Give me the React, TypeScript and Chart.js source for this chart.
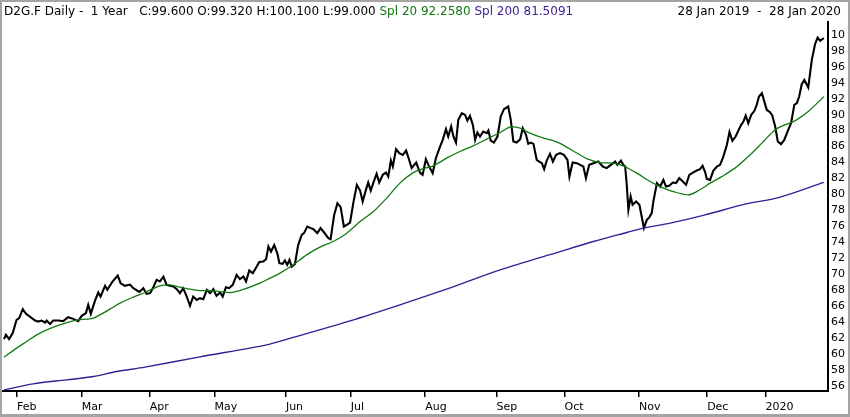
import React, { useEffect, useRef } from "react";
import { Chart, registerables } from "chart.js";

Chart.register(...registerables);

// ---- Data (x = trading-day index from 28 Jan 2019) ----
const priceDay = [
  0.0, 0.6, 1.6, 2.7, 3.9, 4.7, 5.8, 6.8, 8.0, 9.6, 10.6, 11.6, 12.7, 13.2, 14.2, 15.2, 16.8, 18.3, 19.8, 21.4,
  22.9, 24.0, 25.3, 26.0, 26.8, 28.1, 29.1, 29.8, 31.2, 31.9, 33.5, 35.1, 36.0, 37.3, 38.9, 39.9, 41.8, 43.0,
  44.0, 45.1, 46.1, 47.1, 48.1, 49.2, 50.2, 51.2, 52.3, 53.3, 54.3, 55.3, 56.4, 57.4, 58.4, 59.5, 60.5, 61.5,
  62.6, 63.6, 64.6, 65.6, 66.7, 67.5, 68.5, 69.5, 70.6, 71.8, 72.8, 73.9, 74.7, 75.7, 76.8, 78.0, 78.8, 80.0,
  80.9, 81.6, 82.4, 83.4, 84.4, 85.0, 86.0, 86.7, 87.4, 88.1, 88.8, 89.8, 90.8, 91.9, 92.6, 93.6, 94.7, 95.5,
  96.7, 97.7, 98.8, 100.1, 100.8, 101.9, 102.9, 103.9, 104.9, 105.8, 106.8, 107.8, 108.9, 109.9, 110.7, 111.7,
  112.4, 113.2, 114.0, 115.0, 115.8, 116.9, 117.9, 118.6, 119.4, 120.0, 121.0, 122.0, 123.1, 124.1, 125.1,
  125.8, 127.2, 128.4, 129.2, 130.2, 131.3, 132.3, 133.3, 134.4, 135.4, 136.4, 137.1, 138.0, 138.7, 139.5,
  140.2, 141.3, 142.3, 143.0, 143.8, 144.7, 145.4, 146.1, 146.9, 147.9, 149.0, 149.5, 150.2, 151.2, 152.3,
  153.3, 154.3, 155.6, 156.4, 157.2, 158.2, 159.3, 160.1, 161.1, 161.8, 162.6, 163.4, 164.4, 165.2, 166.0,
  166.7, 167.5, 168.5, 169.4, 170.4, 171.6, 172.8, 173.9, 174.5, 175.5, 176.8, 177.8, 178.8, 179.6, 180.6,
  181.9, 183.4, 184.8, 186.0, 187.3, 188.6, 189.3, 190.4, 191.1, 191.7, 192.2, 192.7, 193.4, 194.0, 195.1,
  196.1, 196.8, 197.5, 198.4, 199.2, 199.9, 200.4, 201.5, 202.5, 203.5, 204.3, 205.3, 206.4, 207.4, 208.4,
  209.5, 210.5, 211.5, 212.6, 213.8, 214.8, 215.6, 216.4, 216.9, 217.9, 218.9, 220.0, 221.0, 222.0, 223.1,
  223.9, 224.8, 225.8, 226.6, 227.5, 228.2, 228.9, 229.7, 230.6, 231.6, 232.3, 233.0, 233.9, 234.7, 235.4,
  236.4, 237.1, 238.0, 238.8, 239.8, 240.8, 241.9, 242.9, 243.9, 244.7, 245.4, 246.2, 247.0, 248.2, 249.3,
  250.3, 251.1, 251.9, 253.0,
];
const priceClose = [
  61.87, 62.41, 61.87, 62.62, 64.29, 64.5, 65.63, 65.04, 64.7, 64.2, 64.07, 64.2, 63.95, 64.2, 63.78, 64.2, 64.2, 64.12, 64.62, 64.41,
  64.12, 64.79, 65.13, 66.17, 65.04, 66.7, 67.71, 67.21, 68.55, 68.05, 69.09, 69.84, 68.88, 68.55, 68.71, 68.26, 67.79, 68.26,
  67.54, 67.63, 68.38, 69.3, 69.09, 69.71, 68.67, 68.55, 68.46, 68.13, 67.63, 68.26, 67.21, 66.04, 67.21, 66.79, 67.0, 66.88,
  68.05, 67.63, 68.13, 67.29, 67.71, 67.21, 68.38, 68.26, 68.67, 69.92, 69.39, 69.71, 69.09, 70.46, 70.14, 70.96, 71.55, 71.59,
  71.89, 73.47, 72.84, 73.65, 72.56, 71.39, 71.3, 71.72, 71.18, 71.8, 70.96, 71.3, 73.68, 74.94, 75.15, 75.98, 75.78, 75.65,
  75.15, 75.78, 75.23, 74.52, 74.4, 77.44, 78.91, 78.41, 75.98, 76.19, 76.48, 78.91, 81.2, 80.49, 79.11, 80.58,
  81.49, 80.49, 81.49, 82.58, 81.49, 82.46, 82.74, 82.24, 84.25, 83.5, 85.68, 85.18, 84.96, 85.5, 84.25,
  83.3, 84.0, 82.74, 82.46, 84.42, 83.42, 82.67, 84.55, 85.8, 86.84, 88.18, 87.26, 88.51, 87.26, 86.5,
  89.35, 90.19, 89.97, 89.26, 89.85, 88.72, 86.84, 87.76, 87.26, 87.88, 87.68, 88.01, 86.75, 86.5, 87.26,
  89.76, 90.69, 91.02, 89.35, 86.63, 86.5, 86.93, 88.31, 87.47, 86.34, 86.5, 86.34, 84.34, 84.12, 83.92,
  83.17, 84.25, 85.09, 84.12, 84.96, 85.18, 84.96, 84.34, 82.24, 84.0, 83.92, 83.71, 83.5, 82.04, 83.71,
  83.92, 84.12, 83.5, 83.3, 83.71, 84.12, 83.71, 84.25, 83.71, 83.5, 81.2, 78.07, 79.74, 78.7, 79.11,
  78.7, 77.23, 75.78, 76.82, 77.16, 77.66, 79.11, 81.42, 80.99, 81.83, 80.99, 81.08, 81.49, 81.42, 82.04,
  81.62, 81.2, 82.46, 82.74, 83.0, 83.17, 83.58, 82.77, 81.95, 81.83, 82.96, 83.5, 83.71, 84.75, 86.22,
  87.81, 86.72, 87.26, 87.97, 88.72, 89.14, 89.89, 88.93, 89.97, 90.48, 91.23, 92.27, 92.69, 91.57, 90.6,
  90.31, 89.89, 88.51, 86.63, 86.3, 86.84, 87.97, 88.93, 91.23, 91.44, 92.27, 93.82, 94.36, 93.4, 96.87,
  98.83, 99.66, 99.25, 99.6,
];

const sma20Day = [
  0, 3.9, 7.0, 10.1, 13.2, 16.3, 19.4, 22.9, 25.5, 27.6, 29.6, 32.7, 35.8, 39.9, 43.5, 48.1, 51.2, 54.3, 57.4,
  60.5, 63.6, 66.7, 69.8, 72.8, 75.9, 79.0, 82.1, 85.2, 89.3, 93.4, 97.5, 101.6, 105.8, 109.9, 114.0, 118.1,
  122.2, 126.3, 129.9, 132.5, 136.6, 140.7, 144.8, 149.0, 153.1, 156.2, 159.3, 162.3, 166.5, 169.5, 171.6,
  173.4, 175.7, 179.8, 183.9, 188.0, 191.1, 195.3, 199.4, 202.5, 206.6, 211.2, 213.8, 216.4, 217.4, 221.5, 225.6,
  229.7, 233.9, 238.0, 241.0, 244.1, 248.2, 253.0,
];
const sma20Value = [
  59.61, 60.74, 61.57, 62.41, 63.03, 63.53, 63.95, 64.29, 64.37, 64.5, 64.91, 65.63, 66.38, 67.13, 67.71, 68.55, 68.67, 68.38, 68.13,
  67.96, 67.96, 67.83, 67.71, 67.96, 68.38, 68.88, 69.51, 70.14, 71.18, 72.43, 73.4, 74.1, 75.15, 76.6, 77.86, 79.54,
  81.42, 82.74, 83.3, 83.58, 84.55, 85.38, 86.09, 86.93, 87.76, 88.43, 88.31, 87.68, 87.06, 86.75, 86.4,
  86.0, 85.45, 84.5, 84.0, 83.92, 83.58, 82.67, 81.62, 80.99, 80.36, 79.95, 80.36, 80.99, 81.29, 82.24, 83.3,
  84.75, 86.43, 88.1, 88.72, 89.22, 90.39, 92.258,
];

const sma200Day = [0, 9.0, 19.4, 27.6, 34.8, 43.5, 60.5, 81.1, 86.7, 106.8, 122.2, 137.7, 153.1, 171.6, 181.9, 192.2, 197.3, 205.6, 216.4, 228.7, 239.0, 253.0];
const sma200Value = [55.51, 56.27, 56.77, 57.18, 57.81, 58.36, 59.65, 61.15, 61.78, 64.16, 66.17, 68.3, 70.55, 72.84, 74.1, 75.23, 75.78, 76.4, 77.44, 78.78, 79.61, 81.509];

const monthTickDays = [4, 24, 45, 65, 87, 107, 130, 152, 173, 196, 217, 235];
const monthTickLabels = ["Feb", "Mar", "Apr", "May", "Jun", "Jul", "Aug", "Sep", "Oct", "Nov", "Dec", "2020"];
const priceTicks = [56, 58, 60, 62, 64, 66, 68, 70, 72, 74, 76, 78, 80, 82, 84, 86, 88, 90, 92, 94, 96, 98, 100];

const headerMain = "D2G.F Daily -  1 Year   C:99.600 O:99.320 H:100.100 L:99.000";
const headerSma20 = "Spl 20 92.2580";
const headerSma200 = "Spl 200 81.5091";
const headerRange = "28 Jan 2019  -  28 Jan 2020";

const W = 850;
const H = 417;
const CANVAS_W = 845;
const FONT = "'DejaVu Sans', sans-serif";
const GREEN = "#107a10";
const PURPLE = "#3a1c96";

function toPoints(xs: number[], ys: number[]) {
  return xs.map((x, i) => ({ x, y: ys[i] }));
}

export default function App() {
  const ref = useRef<HTMLCanvasElement | null>(null);

  useEffect(() => {
    if (!ref.current) return;
    const chart = new Chart(ref.current, {
      type: "line",
      data: {
        datasets: [
          {
            label: "Spl 200",
            data: toPoints(sma200Day, sma200Value),
            borderColor: PURPLE,
            borderWidth: 1.4,
            pointRadius: 0,
            tension: 0.3,
          },
          {
            label: "Spl 20",
            data: toPoints(sma20Day, sma20Value),
            borderColor: GREEN,
            borderWidth: 1.3,
            pointRadius: 0,
            tension: 0.3,
          },
          {
            label: "D2G.F",
            data: toPoints(priceDay, priceClose),
            borderColor: "#000000",
            borderWidth: 2.1,
            pointRadius: 0,
            tension: 0,
          },
        ],
      },
      options: {
        responsive: false,
        animation: false,
        devicePixelRatio: 1,
        layout: { padding: { left: 3, top: 22, right: 0, bottom: 0 } },
        plugins: { legend: { display: false }, tooltip: { enabled: false }, title: { display: false } },
        scales: {
          x: {
            type: "linear",
            position: "bottom",
            min: -0.3,
            max: 254.3,
            afterBuildTicks: (scale: any) => {
              scale.ticks = monthTickDays.map((v) => ({ value: v }));
            },
            afterFit: (scale: any) => {
              scale.height = 26;
            },
            grid: {
              display: true,
              drawOnChartArea: false,
              drawTicks: true,
              tickLength: 6,
              color: "#000",
              lineWidth: 1.5,
            },
            border: { display: true, color: "#000", width: 2 },
            ticks: {
              autoSkip: false,
              maxRotation: 0,
              minRotation: 0,
              align: "start",
              padding: 4,
              color: "#000",
              font: { family: FONT, size: 11 },
              callback: (value: any) => {
                const i = monthTickDays.indexOf(Number(value));
                return i >= 0 ? monthTickLabels[i] : "";
              },
            },
          },
          y: {
            type: "linear",
            position: "right",
            min: 55.37,
            max: 101.61,
            afterBuildTicks: (scale: any) => {
              scale.ticks = priceTicks.map((v) => ({ value: v }));
            },
            afterFit: (scale: any) => {
              scale.width = CANVAS_W - 828;
            },
            grid: { display: true, drawOnChartArea: false, drawTicks: false },
            border: { display: true, color: "#000", width: 2 },
            ticks: {
              autoSkip: false,
              padding: 3,
              color: "#000",
              font: { family: FONT, size: 11 },
              callback: (value: any) => String(value),
            },
          },
        },
      },
    });
    return () => chart.destroy();
  }, []);

  const textBase: React.CSSProperties = {
    position: "absolute",
    top: 4,
    fontFamily: FONT,
    fontSize: 12,
    lineHeight: "14px",
    whiteSpace: "pre",
  };

  return (
    <div style={{ position: "absolute", left: 0, top: 0, width: W, height: H, background: "#fff", overflow: "hidden" }}>
      <canvas
        ref={ref}
        width={CANVAS_W}
        height={H}
        style={{ position: "absolute", left: 0, top: 0, width: CANVAS_W, height: H }}
      />
      <div style={{ ...textBase, left: 4, color: "#000" }}>
        {headerMain} <span style={{ color: GREEN }}>{headerSma20}</span>{" "}
        <span style={{ color: PURPLE }}>{headerSma200}</span>
      </div>
      <div style={{ ...textBase, right: 9, color: "#000" }}>{headerRange}</div>
      <div
        style={{
          position: "absolute",
          left: 0,
          top: 0,
          width: W,
          height: H,
          boxSizing: "border-box",
          borderStyle: "solid",
          borderColor: "#a4a4a4",
          borderWidth: "2px 2px 3px 2px",
          pointerEvents: "none",
        }}
      />
    </div>
  );
}
